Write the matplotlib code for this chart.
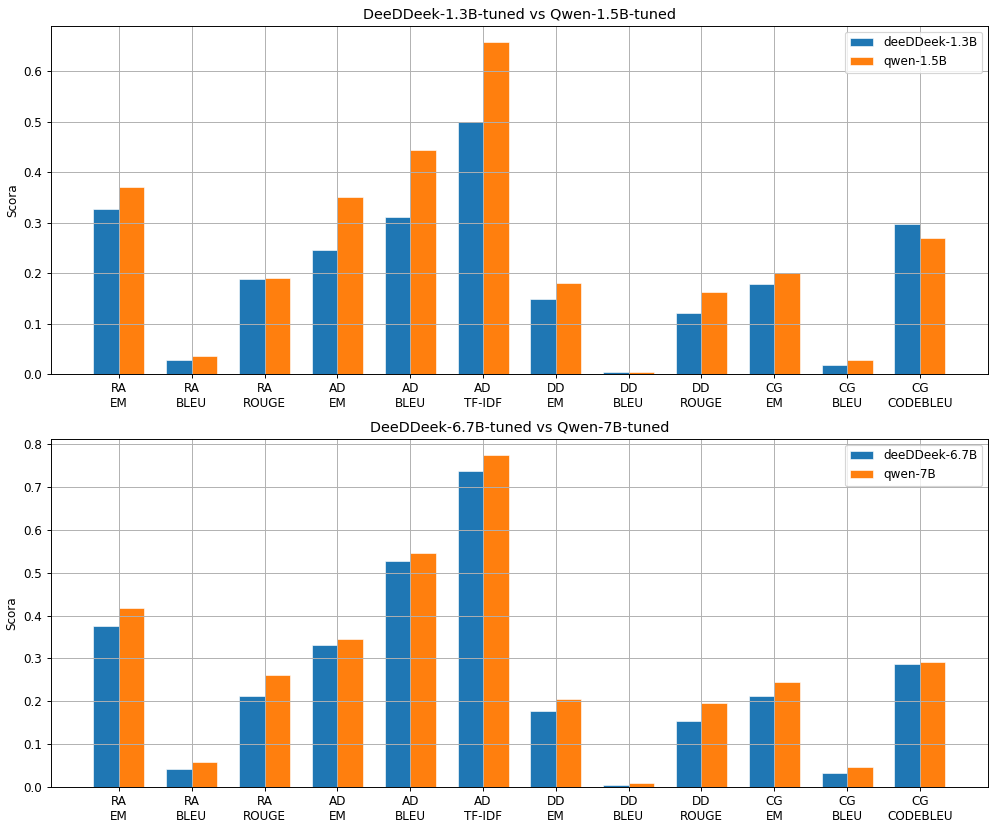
import matplotlib
matplotlib.use("Agg")
import matplotlib.pyplot as plt
import numpy as np

categories = ["RA\nEM", "RA\nBLEU", "RA\nROUGE", "AD\nEM", "AD\nBLEU", "AD\nTF-IDF",
              "DD\nEM", "DD\nBLEU", "DD\nROUGE", "CG\nEM", "CG\nBLEU", "CG\nCODEBLEU"]

deepseek_small = [0.326, 0.027, 0.188, 0.245, 0.311, 0.499, 0.148, 0.004, 0.120, 0.178, 0.019, 0.297]
qwen_small = [0.370, 0.036, 0.191, 0.351, 0.443, 0.657, 0.180, 0.005, 0.162, 0.200, 0.028, 0.270]

deepseek_large = [0.375, 0.043, 0.213, 0.331, 0.527, 0.738, 0.177, 0.005, 0.153, 0.212, 0.032, 0.286]
qwen_large = [0.418, 0.058, 0.261, 0.345, 0.546, 0.774, 0.205, 0.009, 0.196, 0.244, 0.047, 0.292]

panels = [
    ("DeeDDeek-1.3B-tuned vs Qwen-1.5B-tuned", "deeDDeek-1.3B", "qwen-1.5B", deepseek_small, qwen_small),
    ("DeeDDeek-6.7B-tuned vs Qwen-7B-tuned", "deeDDeek-6.7B", "qwen-7B", deepseek_large, qwen_large),
]

DPI = 86
fig, axes = plt.subplots(2, 1, figsize=(997 / DPI, 828 / DPI), dpi=DPI)
fig.subplots_adjust(left=0.051, right=0.991, top=0.969, bottom=0.0495, hspace=0.185)

x = np.arange(len(categories))
w = 0.35
for ax, (title, l1, l2, v1, v2) in zip(axes, panels):
    ax.bar(x - w / 2, v1, w, label=l1, color="#1f77b4", edgecolor="white", linewidth=0.5)
    ax.bar(x + w / 2, v2, w, label=l2, color="#ff7f0e", edgecolor="white", linewidth=0.5)
    ax.set_xticks(x)
    ax.set_xticklabels(categories)
    ax.set_ylabel("Scora")
    ax.set_title(title)
    ax.legend(loc="upper right")
    ax.grid(True)

fig.savefig("out.png", dpi=DPI)
